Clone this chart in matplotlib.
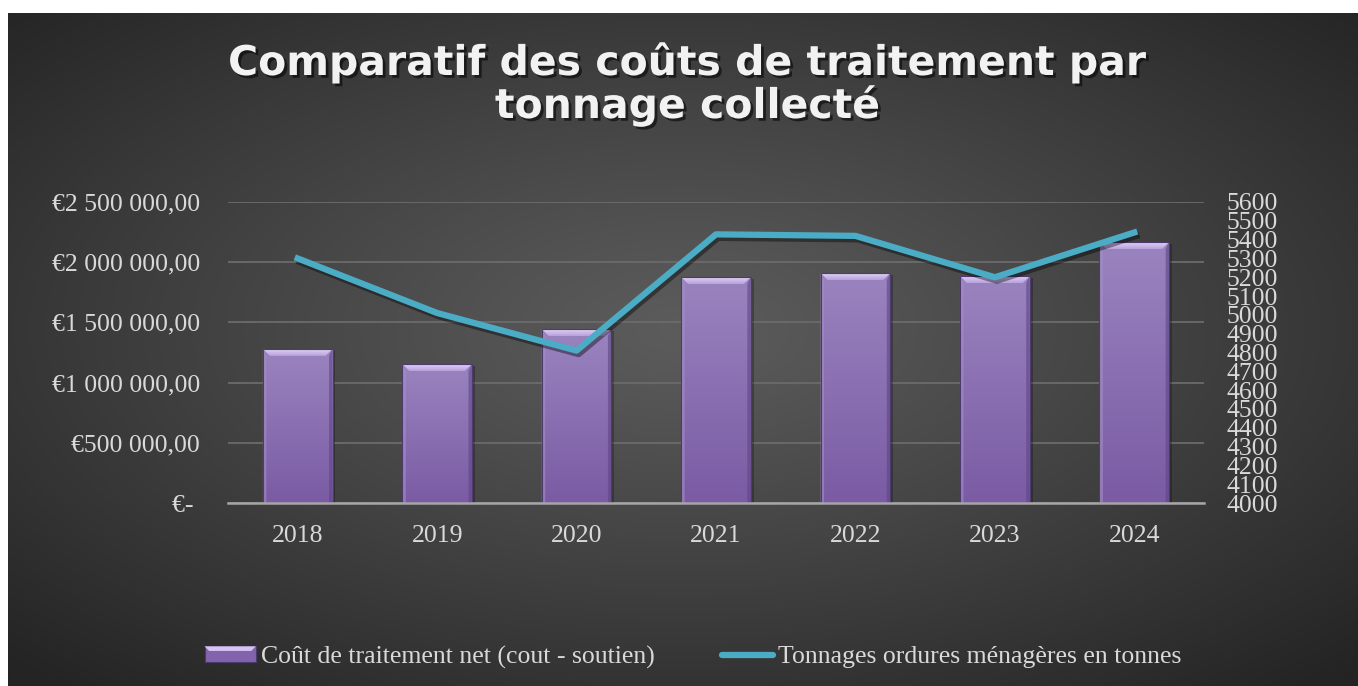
import numpy as np
import matplotlib
matplotlib.use('Agg')
import matplotlib.pyplot as plt
import matplotlib.patheffects as pe
from matplotlib.patches import Rectangle, Polygon
from matplotlib.lines import Line2D
from matplotlib.legend_handler import HandlerBase
from matplotlib.ticker import FuncFormatter, MultipleLocator

# data
years = ['2018', '2019', '2020', '2021', '2022', '2023', '2024']
cout_net = [1280000, 1155000, 1445000, 1877000, 1910000, 1885000, 2168000]
tonnages = [5300, 5010, 4810, 5428, 5420, 5200, 5438]

title_lines = ['Comparatif des coûts de traitement par', 'tonnage collecté']
label_bars = 'Coût de traitement net (cout - soutien)'
label_line = 'Tonnages ordures ménagères en tonnes'

W, H = 1358, 686
serif = ['Liberation Serif', 'DejaVu Serif']
fsize = 18.5
txt_col = '#d9d9d9'
line_col = '#4bacc6'

fig = plt.figure(figsize=(W / 100, H / 100), dpi=100)
fig.patch.set_facecolor('white')

# dark radial background of the chart area
bg = fig.add_axes([8 / W, 0, (W - 8) / W, (H - 13) / H])
bg.set_axis_off()
gx, gy = np.meshgrid(np.linspace(0, 1, 400), np.linspace(0, 1, 200))
r = np.sqrt(((gx - 0.5) / 0.5) ** 2 + ((gy - 0.47) / 0.5) ** 2) / np.sqrt(2)
lum = (92 - 56 * np.clip(r, 0, 1) ** 1.1) / 255
bg.imshow(np.dstack([lum, lum, lum]), extent=(0, 1, 0, 1), aspect='auto',
          origin='upper', interpolation='bilinear')
bg.set_xlim(0, 1)
bg.set_ylim(0, 1)

ax = fig.add_axes([228 / W, 1 - 503 / H, (1204 - 228) / W, (503 - 202) / H])
ax.set_facecolor('none')
x = np.arange(len(years))
ax.set_xlim(-0.5, len(years) - 0.5)
ax.set_ylim(0, 2500000)

bars = ax.bar(x, cout_net, width=0.5, color='none', edgecolor='none', zorder=3)

# bevelled purple bars
inv = ax.transData.inverted()
p0 = ax.transData.transform((0, 0))
bev = 7
ddx = inv.transform(p0 + [bev, 0])[0] - inv.transform(p0)[0]
ddy = inv.transform(p0 + [0, bev])[1] - inv.transform(p0)[1]
sdx = ddx * 0.5
grad = np.linspace(0, 1, 100)[:, None]
top_c = np.array([0x9a, 0x84, 0xbf]) / 255
bot_c = np.array([0x7a, 0x5b, 0xa4]) / 255
face_img = top_c[None, None, :] * (1 - grad[..., None]) + bot_c[None, None, :] * grad[..., None]
face_img = np.repeat(face_img, 2, axis=1)
bev_img = np.linspace(0, 1, 20)[:, None, None] * (np.array([0xe0, 0xd0, 0xf8]) / 255) + \
    (1 - np.linspace(0, 1, 20)[:, None, None]) * (np.array([0xb8, 0xa2, 0xdc]) / 255)
bev_img = np.repeat(bev_img, 2, axis=1)
for b in bars:
    x0 = b.get_x()
    x1 = x0 + b.get_width()
    h = b.get_height()
    # soft shadow
    ax.add_patch(Rectangle((x0 + ddx * 0.4, 0), b.get_width(), h - ddy * 0.3,
                           facecolor='black', alpha=0.25, lw=0, zorder=2))
    im = ax.imshow(face_img, extent=(x0, x1, 0, h), aspect='auto', origin='upper',
                   interpolation='bilinear', zorder=3)
    im.set_clip_path(Rectangle((x0, 0), b.get_width(), h, transform=ax.transData))
    topbev = Polygon([(x0, h), (x1, h), (x1 - ddx, h - ddy), (x0 + ddx, h - ddy)],
                     facecolor='none', edgecolor='none', zorder=4)
    ax.add_patch(topbev)
    im2 = ax.imshow(bev_img, extent=(x0, x1, h - ddy, h), aspect='auto', origin='lower',
                    interpolation='bilinear', zorder=4)
    im2.set_clip_path(topbev)
    ax.add_patch(Polygon([(x0, 0), (x0, h), (x0 + sdx, h - ddy), (x0 + sdx, 0)],
                         facecolor='#a58fc8', alpha=0.6, edgecolor='none', zorder=4))
    ax.add_patch(Polygon([(x1, 0), (x1, h), (x1 - sdx, h - ddy), (x1 - sdx, 0)],
                         facecolor='#5e4585', alpha=0.6, edgecolor='none', zorder=4))
    ax.add_patch(Rectangle((x0, 0), b.get_width(), h, facecolor='none',
                           edgecolor='#4e3b6e', lw=0.8, zorder=5))

ax.yaxis.set_major_locator(MultipleLocator(500000))


def euro(v, pos):
    if v == 0:
        return '€- '
    return '€' + f'{v:,.2f}'.replace(',', ' ').replace('.', ',')


ax.yaxis.set_major_formatter(FuncFormatter(euro))
ax.grid(axis='y', color='#6b6b6b', lw=1.3, zorder=0)
ax.set_axisbelow(True)
for s in ['top', 'right', 'left']:
    ax.spines[s].set_visible(False)
ax.spines['bottom'].set_color('#a6a6a6')
ax.spines['bottom'].set_linewidth(1.8)
ax.spines['bottom'].set_zorder(6)
ax.set_xticks(x)
ax.set_xticklabels(years)
ax.tick_params(axis='both', length=0, colors=txt_col, labelsize=fsize)
ax.tick_params(axis='x', pad=16)
ax.tick_params(axis='y', pad=20)
for lab in ax.get_xticklabels() + ax.get_yticklabels():
    lab.set_family(serif)

ax2 = ax.twinx()
ax2.set_ylim(4000, 5600)
ax2.yaxis.set_major_locator(MultipleLocator(100))
for s in ax2.spines.values():
    s.set_visible(False)
ax2.tick_params(axis='y', length=0, colors=txt_col, labelsize=fsize, pad=16.5)
for lab in ax2.get_yticklabels():
    lab.set_family(serif)
ax2.plot(x, tonnages, color=line_col, lw=4.5, zorder=5,
         path_effects=[pe.SimpleLineShadow(offset=(1.5, -2.5), alpha=0.4), pe.Normal()])

# title
shadow = [pe.withSimplePatchShadow(offset=(2, -2), shadow_rgbFace='black', alpha=0.55)]
fig.text(688 / W, 1 - 75 / H, title_lines[0], ha='center', va='baseline', color='#f2f2f2',
         fontsize=29.5, fontweight='bold', family='DejaVu Sans', path_effects=shadow)
fig.text(688 / W, 1 - 118 / H, title_lines[1], ha='center', va='baseline', color='#f2f2f2',
         fontsize=29.5, fontweight='bold', family='DejaVu Sans', path_effects=shadow)


class BevelHandler(HandlerBase):
    def create_artists(self, legend, orig_handle, xdescent, ydescent, width, height, fontsize, trans):
        x0, y0 = -xdescent, -ydescent
        b = height * 0.3
        face = Rectangle((x0, y0), width, height, facecolor='#8264ad', edgecolor='#4e3b6e',
                         lw=0.8, transform=trans)
        top = Polygon([(x0, y0 + height), (x0 + width, y0 + height),
                       (x0 + width - b, y0 + height - b), (x0 + b, y0 + height - b)],
                      facecolor='#d6c3f2', edgecolor='none', transform=trans)
        return [face, top]


h_bar = Rectangle((0, 0), 1, 1)
h_line = Line2D([], [], color=line_col, lw=4.5, solid_capstyle='round')
leg = fig.legend([h_bar, h_line], [label_bars, label_line], loc='center',
                 bbox_to_anchor=(693 / W, 1 - 657 / H), ncol=2, frameon=False,
                 handler_map={Rectangle: BevelHandler()}, handlelength=2.0,
                 handleheight=0.55, handletextpad=0.2, columnspacing=2.6,
                 prop={'family': serif, 'size': fsize})
for t in leg.get_texts():
    t.set_color(txt_col)

fig.savefig('out.png', dpi=100, facecolor=fig.get_facecolor())
